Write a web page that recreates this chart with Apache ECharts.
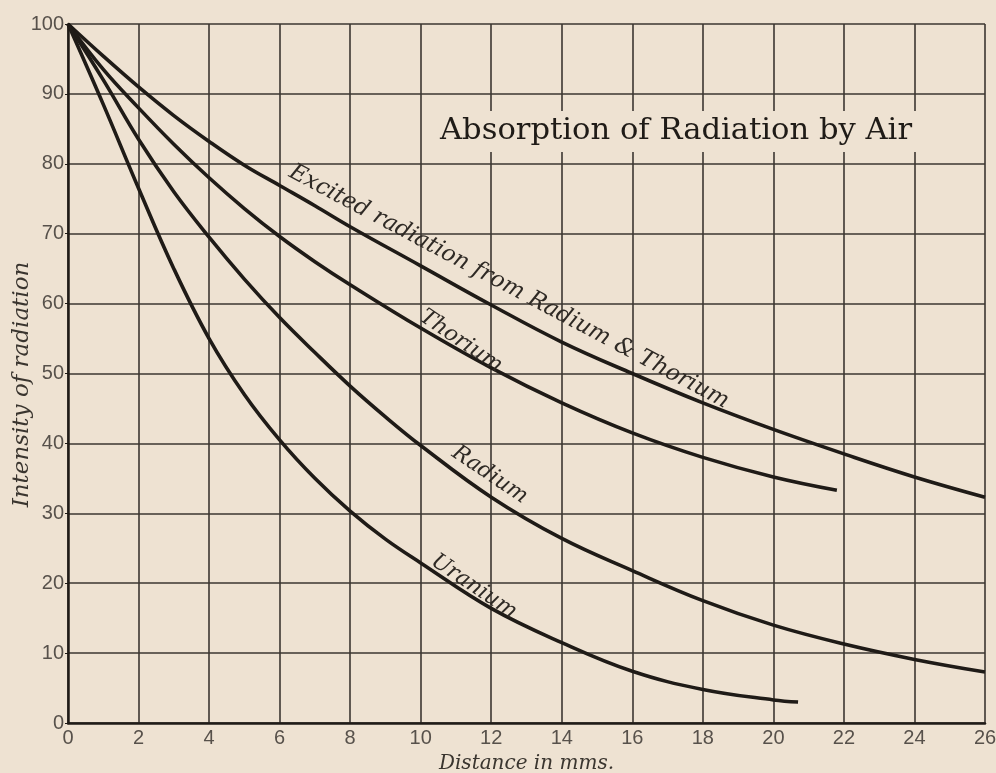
<!DOCTYPE html>
<html>
<head>
<meta charset="utf-8">
<script src="https://cdn.jsdelivr.net/npm/echarts@6/dist/echarts.min.js"></script>
<style>
  html, body { margin: 0; padding: 0; background: #eee2d2; }
  #main { width: 996px; height: 773px; }
</style>
</head>
<body>
<div id="main"></div>
<script type="text/javascript">
    // distance in mms (x) and intensity of radiation (y)
    var excitedX = [0, 1, 2, 3, 4, 5, 6, 7, 8, 10, 12, 14, 16, 18, 20, 22, 24, 26];
    var excitedY = [100, 95.4, 91, 86.9, 83.2, 79.8, 76.9, 74, 71, 65.4, 59.8, 54.5, 50, 45.8, 42, 38.5, 35.2, 32.3];
    var thoriumX = [0, 1, 2, 3, 4, 5, 6, 7, 8, 10, 12, 14, 16, 18, 20, 21.8];
    var thoriumY = [100, 93.5, 88, 82.8, 78, 73.6, 69.6, 66, 62.7, 56.5, 50.8, 45.8, 41.5, 38, 35.2, 33.3];
    var radiumX = [0, 1, 2, 3, 4, 5, 6, 7, 8, 9, 10, 12, 14, 16, 18, 20, 22, 24, 26];
    var radiumY = [100, 92, 83.5, 76, 69.5, 63.5, 58, 53, 48.2, 43.8, 39.7, 32.3, 26.4, 21.8, 17.5, 14, 11.3, 9.1, 7.3];
    var uraniumX = [0, 1, 2, 3, 4, 5, 6, 7, 8, 9, 10, 12, 14, 16, 18, 20, 20.7];
    var uraniumY = [100, 88.5, 76.5, 65, 55, 47, 40.5, 35, 30.3, 26.3, 22.9, 16.4, 11.5, 7.4, 4.8, 3.3, 3.0];

    var curveNames = ['Excited radiation from Radium & Thorium', 'Thorium', 'Radium', 'Uranium'];

    var paper = '#eee2d2';
    var ink = '#1f1b17';

    function pairs(xs, ys) {
        var out = [];
        for (var i = 0; i < xs.length; i++) {
            out.push([xs[i], ys[i]]);
        }
        return out;
    }

    function curve(name, xs, ys) {
        return {
            name: name,
            type: 'line',
            smooth: 0.4,
            symbol: 'none',
            data: pairs(xs, ys),
            lineStyle: { color: ink, width: 3.6 },
            z: 5
        };
    }

    var myChart = echarts.init(document.getElementById('main'));
    var option = {
        backgroundColor: paper,
        animation: false,
        title: {
            text: 'Absorption of Radiation by Air',
            left: 432,
            top: 111,
            padding: [5, 8],
            backgroundColor: paper,
            textStyle: {
                fontFamily: 'DejaVu Serif',
                fontWeight: 'normal',
                fontSize: 30.6,
                color: '#1f1b17'
            },
            z: 10
        },
        grid: { left: 68, right: 11, top: 24, bottom: 50, containLabel: false, outerBoundsMode: 'none' },
        xAxis: {
            type: 'value',
            min: 0,
            max: 26,
            interval: 2,
            name: 'Distance in mms.',
            nameLocation: 'middle',
            nameGap: 31,
            nameMoveOverlap: false,
            nameTextStyle: { fontFamily: 'DejaVu Serif', fontStyle: 'italic', fontSize: 20, color: '#3a352f' },
            axisLine: { lineStyle: { color: ink, width: 2.5 } },
            axisTick: { show: false },
            axisLabel: { fontFamily: 'Liberation Sans', fontSize: 20, color: '#57514b', margin: 5 },
            splitLine: { show: true, lineStyle: { color: '#3b3631', width: 1.6 } }
        },
        yAxis: {
            type: 'value',
            min: 0,
            max: 100,
            interval: 10,
            name: 'Intensity of radiation',
            nameLocation: 'middle',
            nameGap: 34,
            nameMoveOverlap: false,
            nameTextStyle: {
                fontFamily: 'DejaVu Serif', fontStyle: 'italic', fontSize: 23, color: '#3a352f',
                padding: [0, 22, 0, 0]
            },
            axisLine: { lineStyle: { color: ink, width: 2.5 } },
            axisTick: { show: true, length: 3, lineStyle: { color: ink } },
            axisLabel: { fontFamily: 'Liberation Sans', fontSize: 20, color: '#57514b', margin: 4 },
            splitLine: { show: true, lineStyle: { color: '#3b3631', width: 1.6 } }
        },
        series: [
            curve(curveNames[0], excitedX, excitedY),
            curve(curveNames[1], thoriumX, thoriumY),
            curve(curveNames[2], radiumX, radiumY),
            curve(curveNames[3], uraniumX, uraniumY)
        ]
    };
    myChart.setOption(option);

    // curve labels, placed in data coordinates along each line
    var labelSpots = [
        { text: curveNames[0], at: [12.5, 62.4], angle: 28, size: 23 },
        { text: curveNames[1], at: [11.14, 54.6], angle: 34, size: 22 },
        { text: curveNames[2], at: [11.96, 35.5], angle: 34, size: 22 },
        { text: curveNames[3], at: [11.51, 19.5], angle: 34, size: 22 }
    ];
    var texts = labelSpots.map(function (s) {
        var p = myChart.convertToPixel({ gridIndex: 0 }, s.at);
        return {
            type: 'text',
            x: p[0],
            y: p[1],
            rotation: -s.angle * Math.PI / 180,
            z: 20,
            style: {
                text: s.text,
                fontFamily: 'DejaVu Serif',
                fontStyle: 'italic',
                fontSize: s.size,
                fill: '#2f2a25',
                align: 'center',
                verticalAlign: 'middle'
            }
        };
    });
    myChart.setOption({ graphic: texts });
</script>
</body>
</html>
